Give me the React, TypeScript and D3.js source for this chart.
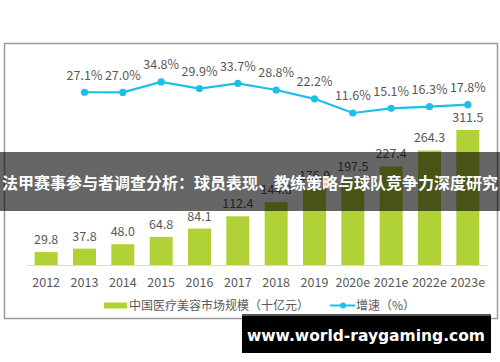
import React from "react";
import * as d3 from "d3";

const categories = ["2012", "2013", "2014", "2015", "2016", "2017", "2018", "2019", "2020e", "2021e", "2022e", "2023e"];
const marketSize = [29.8, 37.8, 48.0, 64.8, 84.1, 112.4, 144.8, 176.9, 197.5, 227.4, 264.3, 311.5];
const growthCategories = ["2013", "2014", "2015", "2016", "2017", "2018", "2019", "2020e", "2021e", "2022e", "2023e"];
const growth = [27.1, 27.0, 34.8, 29.9, 33.7, 28.8, 22.2, 11.6, 15.1, 16.3, 17.8];
const legendBar = "中国医疗美容市场规模（十亿元）";
const legendLine = "增速（%）";
const title = "法甲赛事参与者调查分析：球员表现、教练策略与球队竞争力深度研究";
const watermark = "www.world-raygaming.com";

const FONT = "'Noto Sans CJK SC', 'Noto Sans', sans-serif";
const BAR = "#b1d236";
const LINE = "#1dbfea";
const TXT = "#595959";

export default function App() {
  const x = d3.scaleBand<string>().domain(categories).range([27, 487]).paddingInner(0.4).paddingOuter(0.2);
  const yBar = d3.scaleLinear().domain([0, 311.5]).range([265, 130]);
  const yLine = d3.scaleLinear().domain([0, 35]).range([128.5, 81.7]);
  const cx = (c: string) => (x(c) as number) + x.bandwidth() / 2;
  const line = d3.line<number>().x((_, i) => cx(growthCategories[i])).y((d) => yLine(d));

  return (
    <svg width={500} height={362} style={{ position: "absolute", left: 0, top: 0, background: "#fff" }} fontFamily={FONT}>
      <rect x={0} y={0} width={500} height={362} fill="#fff" />
      <rect x={4.5} y={43.5} width={493} height={275} fill="#fff" stroke="#9a9a9a" strokeWidth={1.5} />
      {categories.map((c, i) => (
        <g key={c}>
          <rect x={x(c)} y={yBar(marketSize[i])} width={x.bandwidth()} height={265 - yBar(marketSize[i])} fill={BAR} />
          <text x={cx(c)} y={yBar(marketSize[i]) - 8} textAnchor="middle" fontSize={12.5} fill={TXT}>
            {marketSize[i].toFixed(1)}
          </text>
          <text x={cx(c)} y={287} textAnchor="middle" fontSize={12.5} fill={TXT}>
            {c}
          </text>
        </g>
      ))}
      <line x1={27} x2={487} y1={265.5} y2={265.5} stroke="#d9d9d9" strokeWidth={1} />
      <path d={line(growth) as string} fill="none" stroke={LINE} strokeWidth={2.2} />
      {growth.map((g, i) => (
        <g key={i}>
          <circle cx={cx(growthCategories[i])} cy={yLine(g)} r={3.6} fill={LINE} />
          <text x={cx(growthCategories[i])} y={yLine(g) - 12.5} textAnchor="middle" fontSize={12.5} fill={TXT}>
            {g.toFixed(1)}%
          </text>
        </g>
      ))}
      <rect x={104} y={302.5} width={23} height={6} fill={BAR} />
      <text x={129} y={310} fontSize={12} fill={TXT}>{legendBar}</text>
      <line x1={330} x2={355} y1={305.5} y2={305.5} stroke={LINE} strokeWidth={2} />
      <circle cx={343} cy={305.5} r={3} fill={LINE} />
      <text x={356} y={310} fontSize={12} fill={TXT}>{legendLine}</text>
      <rect x={0} y={152} width={500} height={59} fill="#000" fillOpacity={0.6} />
      <text x={250} y={188.5} textAnchor="middle" fontSize={16} fontWeight="bold" fill="#fff">
        {title}
      </text>
      <rect x={242} y={314} width={249} height={39} fill="#000" />
      <rect x={242} y={314} width={249} height={2} fill="#555" />
      <text x={366} y={340.5} textAnchor="middle" fontSize={15.5} fontWeight="bold" fill="#fff" fontFamily="'DejaVu Sans', sans-serif">
        {watermark}
      </text>
    </svg>
  );
}
